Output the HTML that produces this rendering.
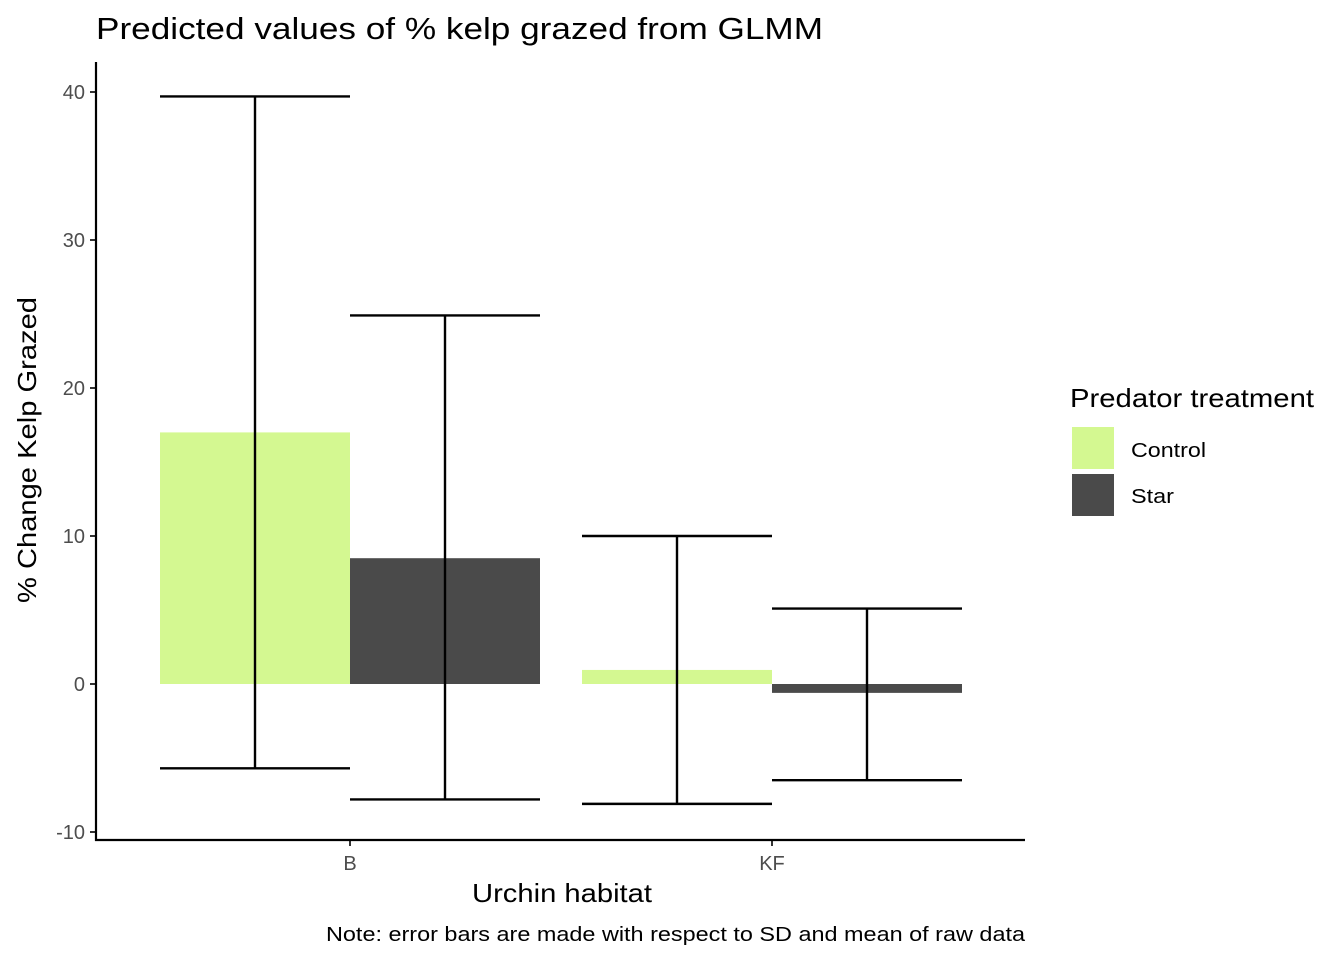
<!DOCTYPE html>
<html><head><meta charset="utf-8"><style>
body{margin:0;background:#fff;font-family:"Liberation Sans",Arial,sans-serif}
</style></head><body>
<svg id="c" width="1344" height="960" xmlns="http://www.w3.org/2000/svg">
<text x="96" y="39" font-size="31" textLength="727" lengthAdjust="spacingAndGlyphs" fill="#000">Predicted values of % kelp grazed from GLMM</text>
<g id="bars"></g>
<g id="axes"></g>
<text x="472" y="902" font-size="26" textLength="180" lengthAdjust="spacingAndGlyphs">Urchin habitat</text>
<text transform="translate(36,603) rotate(-90)" font-size="26" textLength="306" lengthAdjust="spacingAndGlyphs">% Change Kelp Grazed</text>
<text x="326" y="941" font-size="20" textLength="699" lengthAdjust="spacingAndGlyphs">Note: error bars are made with respect to SD and mean of raw data</text>
<g>
<text x="1070" y="407" font-size="26" textLength="244" lengthAdjust="spacingAndGlyphs">Predator treatment</text>
<rect x="1072" y="427" width="42" height="42" fill="#d4f891"/>
<text x="1131" y="457" font-size="20" textLength="75" lengthAdjust="spacingAndGlyphs">Control</text>
<rect x="1072" y="474" width="42" height="42" fill="#4a4a4a"/>
<text x="1131" y="503" font-size="20" textLength="43" lengthAdjust="spacingAndGlyphs">Star</text>
</g>
</svg>
<script>
const categories=["B","KF"];
const series=["Control","Star"];
const colors=["#d4f891","#4a4a4a"];
const controlValues=[17,0.95];
const starValues=[8.5,-0.6];
const controlUpper=[39.7,10];
const controlLower=[-5.7,-8.1];
const starUpper=[24.9,5.1];
const starLower=[-7.8,-6.5];
const yTicks=[-10,0,10,20,30,40];
const ns="http://www.w3.org/2000/svg";
const y=v=>684-v*14.8;
const x=i=>350+i*422;
const bw=190;
function mk(t,a,p){const e=document.createElementNS(ns,t);for(const k in a)e.setAttribute(k,a[k]);p.appendChild(e);return e;}
const bars=document.getElementById('bars'),axes=document.getElementById('axes');
const vals=[controlValues,starValues],ups=[controlUpper,starUpper],los=[controlLower,starLower];
categories.forEach((c,i)=>{
 series.forEach((s,j)=>{
  const x0=x(i)-bw+j*bw,v=vals[j][i];
  const r=mk('rect',{x:x0,y:Math.min(y(v),y(0)),width:bw,height:Math.abs(y(v)-y(0)),fill:colors[j]},bars);
  
  
  const g=mk('g',{stroke:'#000','stroke-width':2.4,fill:'none'},bars);
  
  
  const cx=x0+bw/2,yu=y(ups[j][i]),yl=y(los[j][i]);
  mk('line',{x1:x0,x2:x0+bw,y1:yu,y2:yu},g);
  mk('line',{x1:x0,x2:x0+bw,y1:yl,y2:yl},g);
  mk('line',{x1:cx,x2:cx,y1:yu,y2:yl},g);
 });
 mk('line',{x1:x(i),x2:x(i),y1:840,y2:846,stroke:'#333','stroke-width':2},axes);
 const l=mk('text',{x:x(i),y:870,'font-size':20,fill:'#4d4d4d','text-anchor':'middle'},axes);
 l.textContent=c;
 
 
});
yTicks.forEach(v=>{
 mk('line',{x1:90,x2:96,y1:y(v),y2:y(v),stroke:'#333','stroke-width':2},axes);
 const l=mk('text',{x:85,y:y(v)+7,'font-size':20,fill:'#4d4d4d','text-anchor':'end'},axes);
 l.textContent=v;
 
 
});
mk('line',{x1:96,x2:96,y1:62,y2:841,stroke:'#000','stroke-width':2.2},axes);
mk('line',{x1:95,x2:1025,y1:840,y2:840,stroke:'#000','stroke-width':2.2},axes);
</script>
</body></html>
